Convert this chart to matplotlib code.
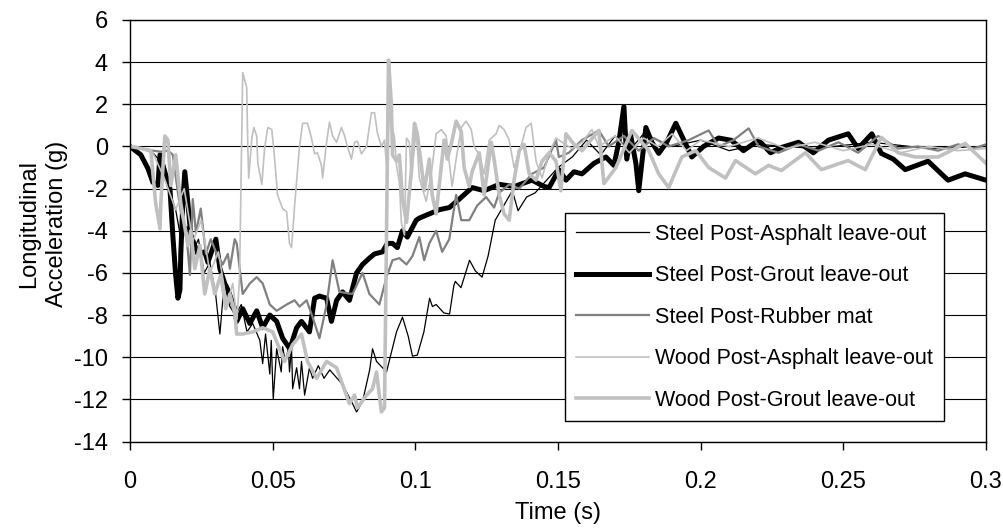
import matplotlib
matplotlib.use("Agg")
import matplotlib.pyplot as plt

plt.rcParams["font.family"] = ["Liberation Sans", "DejaVu Sans"]
plt.rcParams["axes.unicode_minus"] = False

# (time [s], longitudinal acceleration [g]) samples per test
steel_asphalt = [
    (0.000, 0.0), (0.004, -0.1), (0.008, -0.3), (0.010, -0.6), (0.012, -1.0),
    (0.014, -2.2), (0.016, -3.0), (0.018, -4.5), (0.020, -3.8), (0.022, -5.0),
    (0.024, -4.4), (0.026, -6.0), (0.028, -5.5), (0.030, -7.0), (0.0315, -8.9),
    (0.033, -6.5), (0.035, -7.6), (0.037, -8.0), (0.039, -7.5), (0.041, -8.8),
    (0.043, -8.4), (0.0455, -9.2), (0.0465, -10.3), (0.0475, -8.9), (0.049, -10.8),
    (0.0495, -9.2), (0.0502, -12.0), (0.0514, -9.6), (0.053, -10.7), (0.0535, -9.5),
    (0.0544, -10.2), (0.0555, -9.6), (0.0559, -10.7), (0.0566, -9.5), (0.0570, -11.5),
    (0.0584, -10.5), (0.0594, -11.5), (0.0601, -10.2), (0.0612, -11.8), (0.0629, -10.5),
    (0.064, -11.0), (0.066, -10.4), (0.068, -11.0), (0.070, -10.6), (0.0745, -11.3),
    (0.078, -12.2), (0.0794, -12.6), (0.0815, -12.1), (0.084, -10.6), (0.0850, -9.6),
    (0.0864, -10.2), (0.0899, -10.7), (0.0934, -8.8), (0.0955, -8.1), (0.0975, -9.0),
    (0.099, -9.95), (0.1007, -9.9), (0.103, -8.8), (0.105, -7.2), (0.106, -7.6),
    (0.1073, -7.5), (0.110, -7.9), (0.112, -7.95), (0.1135, -6.6), (0.114, -6.4),
    (0.116, -6.7), (0.119, -5.4), (0.121, -5.9), (0.1234, -6.2), (0.1255, -5.2),
    (0.128, -3.5), (0.131, -2.8), (0.134, -2.1), (0.136, -3.05), (0.139, -2.4),
    (0.142, -2.2), (0.146, -1.6), (0.150, -1.0), (0.155, -0.5), (0.160, 0.3),
    (0.165, -0.4), (0.170, 0.5), (0.175, -0.2), (0.180, 0.6), (0.190, 0.0),
    (0.200, 0.3), (0.210, -0.2), (0.220, 0.1), (0.240, -0.1), (0.260, 0.2),
    (0.280, -0.1), (0.300, 0.0),
]

steel_grout = [
    (0.000, 0.0), (0.0038, -0.4), (0.0063, -1.05), (0.0080, -1.7), (0.0098, -1.85),
    (0.0105, -0.4), (0.0122, -1.2), (0.0140, -2.0), (0.0150, -4.2), (0.0160, -6.1),
    (0.0168, -7.2), (0.0175, -6.8), (0.0178, -5.1), (0.0185, -2.7), (0.0192, -1.2),
    (0.0203, -2.7), (0.0213, -4.2), (0.0238, -5.1), (0.0262, -5.0), (0.0273, -5.5),
    (0.0301, -4.4), (0.0315, -5.8), (0.0332, -6.5), (0.0343, -6.8), (0.0367, -7.7),
    (0.0374, -8.3), (0.0395, -7.7), (0.0420, -8.4), (0.0444, -7.8), (0.0465, -8.6),
    (0.0490, -8.0), (0.0514, -8.3), (0.0535, -9.1), (0.0560, -9.6), (0.0584, -8.6),
    (0.0601, -8.3), (0.0629, -8.8), (0.0647, -7.2), (0.0664, -7.1), (0.0689, -7.2),
    (0.0706, -8.3), (0.0724, -7.3), (0.0745, -6.9), (0.0769, -7.3), (0.0794, -6.0),
    (0.0815, -5.6), (0.0839, -5.3), (0.0857, -5.1), (0.0885, -5.0), (0.0902, -4.6),
    (0.0920, -4.6), (0.0937, -4.8), (0.0955, -4.0), (0.0972, -4.3), (0.1003, -3.5),
    (0.1014, -3.4), (0.1049, -3.2), (0.1084, -3.0), (0.1119, -2.9), (0.1154, -2.5),
    (0.1199, -1.95), (0.1241, -2.1), (0.1294, -1.8), (0.1346, -1.9), (0.1409, -1.6),
    (0.1451, -1.9), (0.1469, -1.95), (0.1503, -1.1), (0.1528, -1.6), (0.1556, -1.2),
    (0.1584, -1.3), (0.1626, -0.8), (0.1668, -0.5), (0.1696, -0.9), (0.1713, 0.2),
    (0.1731, 1.9), (0.1741, -0.6), (0.1755, 0.5), (0.1773, -0.8), (0.1783, -2.1),
    (0.1797, -0.4), (0.1808, 0.9), (0.1829, 0.2), (0.1853, -0.33), (0.1881, 0.2),
    (0.1913, 1.1), (0.1941, 0.3), (0.1969, -0.5), (0.2010, 0.0), (0.2063, 0.4),
    (0.2108, 0.29), (0.2150, -0.2), (0.2203, 0.3), (0.2245, -0.3), (0.2283, -0.05),
    (0.2343, 0.2), (0.2395, -0.3), (0.2448, 0.3), (0.2517, 0.6), (0.2552, -0.1),
    (0.2600, 0.6), (0.2633, -0.33), (0.2675, -0.6), (0.2717, -1.1), (0.2797, -0.7),
    (0.2867, -1.6), (0.2927, -1.3), (0.3000, -1.6),
]

steel_rubber = [
    (0.000, 0.0), (0.004, -0.1), (0.008, -0.2), (0.0108, -0.25), (0.0133, -0.2),
    (0.0150, -0.4), (0.0168, -2.2), (0.0178, -3.1), (0.0196, -3.9), (0.0210, -6.1),
    (0.0220, -2.5), (0.0231, -4.1), (0.0248, -2.95), (0.0266, -5.1), (0.0283, -4.4),
    (0.0301, -5.0), (0.0325, -5.6), (0.0343, -5.1), (0.0350, -5.8), (0.0367, -4.4),
    (0.0374, -4.6), (0.0395, -7.0), (0.0420, -6.5), (0.0444, -6.2), (0.0465, -6.5),
    (0.0490, -7.5), (0.0514, -7.8), (0.0549, -7.5), (0.0577, -7.3), (0.0594, -7.6),
    (0.0619, -7.3), (0.0640, -8.1), (0.0664, -9.1), (0.0689, -7.5), (0.0710, -5.4),
    (0.0734, -6.9), (0.0780, -7.0), (0.0815, -6.0), (0.0839, -7.0), (0.0874, -7.5),
    (0.0899, -6.2), (0.0920, -5.4), (0.0944, -5.3), (0.0969, -5.6), (0.0990, -5.2),
    (0.1014, -4.3), (0.1031, -5.4), (0.1049, -4.6), (0.1073, -4.0), (0.1094, -5.0),
    (0.1119, -4.4), (0.1143, -2.3), (0.1161, -3.5), (0.1189, -3.5), (0.1217, -2.8),
    (0.1248, -2.4), (0.1276, -2.9), (0.1294, -2.2), (0.1329, -1.8), (0.1364, -2.0),
    (0.1409, -1.3), (0.1451, -1.0), (0.1493, 0.3), (0.1503, -0.5), (0.1538, -0.3),
    (0.1584, 0.3), (0.1643, 0.76), (0.1678, 0.0), (0.1731, 0.5), (0.1783, -0.2),
    (0.1836, 0.4), (0.1888, 0.0), (0.1958, 0.3), (0.2028, 0.76), (0.2063, 0.0),
    (0.2115, 0.3), (0.2168, 0.86), (0.2203, 0.0), (0.2273, -0.3), (0.2343, 0.1),
    (0.2413, -0.2), (0.2483, 0.2), (0.2552, -0.3), (0.2622, 0.5), (0.2692, -0.1),
    (0.2762, 0.0), (0.2832, -0.2), (0.2902, 0.1), (0.2955, -0.1), (0.3000, 0.1),
]

wood_asphalt = [
    (0.000, 0.0), (0.004, -0.1), (0.008, -0.3), (0.012, -1.5), (0.016, -3.0),
    (0.019, -2.0), (0.022, -4.5), (0.025, -3.5), (0.028, -6.0), (0.031, -5.0),
    (0.034, -7.5), (0.036, -6.5), (0.0375, -8.2), (0.0384, -6.2), (0.0395, 3.5),
    (0.0409, 2.8), (0.0413, -0.05), (0.0416, -1.5), (0.0427, 0.4), (0.0434, 0.9),
    (0.0444, 0.5), (0.0448, -0.8), (0.0462, -1.8), (0.0472, -0.05), (0.0483, 0.9),
    (0.0497, 0.8), (0.0507, -0.6), (0.0517, -2.3), (0.0535, -2.95), (0.0549, -3.1),
    (0.0559, -4.6), (0.0566, -4.8), (0.0570, -4.1), (0.0577, -2.8), (0.0594, 0.0),
    (0.0605, 1.1), (0.0622, 1.1), (0.0636, 0.4), (0.0647, -0.35), (0.0657, -0.3),
    (0.0671, -0.9), (0.0675, -1.5), (0.0689, 0.2), (0.0699, 1.15), (0.0710, 0.5),
    (0.0724, 0.2), (0.0741, 0.9), (0.0752, 0.5), (0.0762, 0.0), (0.0776, -0.6),
    (0.0787, 0.2), (0.0797, 0.25), (0.0811, -0.35), (0.0829, 0.0), (0.0846, 1.6),
    (0.0857, 1.6), (0.0867, 0.65), (0.0881, 0.0), (0.0892, 0.3), (0.0899, -0.9),
    (0.0909, 1.6), (0.0927, 0.4), (0.0934, -0.9), (0.0944, -1.7), (0.0951, -3.6),
    (0.0962, -4.2), (0.0969, 0.4), (0.0979, 0.2), (0.0986, -1.5), (0.1003, 0.8),
    (0.1014, -1.5), (0.1038, -2.6), (0.1056, -1.3), (0.1073, 0.6), (0.1091, 0.8),
    (0.1108, 0.5), (0.1129, -1.9), (0.1143, -0.6), (0.1161, 0.9), (0.1178, 1.2),
    (0.1196, 0.8), (0.1206, 0.0), (0.1224, -0.4), (0.1241, -1.3), (0.1259, 0.3),
    (0.1283, 0.6), (0.1294, 1.0), (0.1311, 0.8), (0.1329, 0.3), (0.1346, -1.0),
    (0.1364, -0.3), (0.1388, 0.9), (0.1406, 1.1), (0.1423, -0.7), (0.1444, -1.5),
    (0.1469, -0.3), (0.1493, 0.4), (0.1514, 0.2), (0.1549, -0.1), (0.1584, 0.2),
    (0.1619, 0.8), (0.1643, 0.0), (0.1700, 0.5), (0.1750, -0.3), (0.1800, 0.4),
    (0.1850, 0.0), (0.1900, 0.6), (0.1950, -0.2), (0.2000, 0.3), (0.2100, 0.0),
    (0.2200, 0.4), (0.2300, -0.1), (0.2400, 0.2), (0.2500, -0.2), (0.2600, 0.1),
    (0.2700, -0.3), (0.2800, 0.0), (0.2900, -0.2), (0.3000, -0.1),
]

wood_grout = [
    (0.000, 0.0), (0.004, -0.1), (0.0073, -0.2), (0.0090, -2.7), (0.0105, -3.9),
    (0.0108, -2.7), (0.0122, 0.5), (0.0133, 0.3), (0.0143, -1.85), (0.0160, -0.4),
    (0.0178, -2.7), (0.0203, -4.7), (0.0213, -4.0), (0.0227, -5.8), (0.0245, -4.7),
    (0.0262, -7.0), (0.0280, -5.8), (0.0297, -7.0), (0.0318, -6.1), (0.0336, -7.7),
    (0.0350, -7.0), (0.0367, -7.9), (0.0374, -8.9), (0.0395, -8.9), (0.0430, -8.8),
    (0.0465, -8.6), (0.0500, -8.8), (0.0524, -9.6), (0.0542, -10.2), (0.0570, -9.4),
    (0.0601, -8.9), (0.0622, -10.2), (0.0654, -11.0), (0.0689, -10.2), (0.0724, -10.5),
    (0.0745, -11.3), (0.0769, -12.2), (0.0787, -11.8), (0.0797, -12.4), (0.0829, -11.8),
    (0.0850, -11.5), (0.0864, -10.7), (0.0881, -12.6), (0.0892, -12.4), (0.0906, 4.1),
    (0.0916, 2.0), (0.0920, -0.4), (0.0934, -0.7), (0.0944, -0.4), (0.0955, -2.5),
    (0.0969, -3.6), (0.0986, -1.2), (0.0997, 1.1), (0.1007, 0.6), (0.1021, -0.9),
    (0.1031, -2.1), (0.1049, -0.6), (0.1059, -2.3), (0.1073, -3.2), (0.1084, -1.8),
    (0.1101, 0.3), (0.1112, -0.6), (0.1129, 0.3), (0.1143, 1.2), (0.1161, 0.7),
    (0.1171, -1.0), (0.1189, -1.9), (0.1199, -1.2), (0.1224, -0.3), (0.1241, -2.3),
    (0.1252, -1.2), (0.1266, 0.2), (0.1276, -0.6), (0.1294, -2.3), (0.1311, -3.2),
    (0.1329, -3.5), (0.1346, -1.6), (0.1364, -0.2), (0.1381, 0.1), (0.1399, -1.3),
    (0.1423, -1.6), (0.1444, -0.7), (0.1469, -0.3), (0.1493, -0.7), (0.1510, -2.1),
    (0.1528, 0.6), (0.1556, 0.1), (0.1584, -0.2), (0.1643, 0.76), (0.1661, -1.76),
    (0.1703, -1.0), (0.1759, 0.76), (0.1818, -0.2), (0.1853, -1.3), (0.1888, -1.95),
    (0.1934, -0.5), (0.1983, -0.2), (0.2028, -1.0), (0.2087, -1.5), (0.2122, -0.67),
    (0.2192, -1.3), (0.2238, -0.9), (0.2283, -1.14), (0.2367, -0.3), (0.2423, -1.1),
    (0.2517, -0.67), (0.2577, -1.1), (0.2633, 0.43), (0.2692, -0.3), (0.2752, -0.5),
    (0.2832, -0.5), (0.2927, 0.14), (0.3000, -0.8),
]

series_names = [
    "Steel Post-Asphalt leave-out",
    "Steel Post-Grout leave-out",
    "Steel Post-Rubber mat",
    "Wood Post-Asphalt leave-out",
    "Wood Post-Grout leave-out",
]
series_data = [steel_asphalt, steel_grout, steel_rubber, wood_asphalt, wood_grout]
series_colors = ["#000000", "#000000", "#808080", "#c0c0c0", "#c0c0c0"]
series_widths = [0.9, 3.6, 1.6, 1.2, 2.6]

x_ticks = [0, 0.05, 0.1, 0.15, 0.2, 0.25, 0.3]
x_tick_labels = ["0", "0.05", "0.1", "0.15", "0.2", "0.25", "0.3"]
y_ticks = [-14, -12, -10, -8, -6, -4, -2, 0, 2, 4, 6]

W, H = 1004, 529
fig = plt.figure(figsize=(W / 100, H / 100), dpi=100)
ax = fig.add_axes([130 / W, 1 - 441.5 / H, 856 / W, 421.5 / H])

for name, data, color, lw in zip(series_names, series_data, series_colors, series_widths):
    t = [p[0] for p in data]
    g = [p[1] for p in data]
    ax.plot(t, g, color=color, lw=lw, label=name, solid_joinstyle="round")

ax.set_xlim(0, 0.3)
ax.set_ylim(-14, 6)
ax.set_xticks(x_ticks)
ax.set_xticklabels(x_tick_labels)
ax.set_yticks(y_ticks)
ax.set_yticklabels([str(v) for v in y_ticks])
ax.tick_params(axis="both", direction="out", length=6, width=1, colors="black",
               labelsize=17)
ax.tick_params(axis="x", pad=15)
ax.tick_params(axis="y", pad=10)
ax.yaxis.grid(True, color="black", lw=0.8)
ax.set_axisbelow(True)
for side in ["left", "right", "top", "bottom"]:
    ax.spines[side].set_color("black")
    ax.spines[side].set_linewidth(1.0)

fig.text(558 / W, 1 - 513 / H, "Time (s)", ha="center", va="center", fontsize=17)
fig.text(43 / W, 1 - 224 / H, "Longitudinal\nAcceleration (g)", ha="center",
         va="center", rotation=90, fontsize=17, linespacing=1.3)

leg = ax.legend(loc="upper left", bbox_to_anchor=(565 / W, 1 - 213 / H),
                bbox_transform=fig.transFigure, borderaxespad=0, fontsize=15.5,
                handlelength=3.4, handletextpad=0.3, borderpad=0.5,
                labelspacing=0.95, fancybox=False, framealpha=1,
                edgecolor="black")
leg.get_frame().set_linewidth(1.0)

fig.savefig("out.png", dpi=100)
